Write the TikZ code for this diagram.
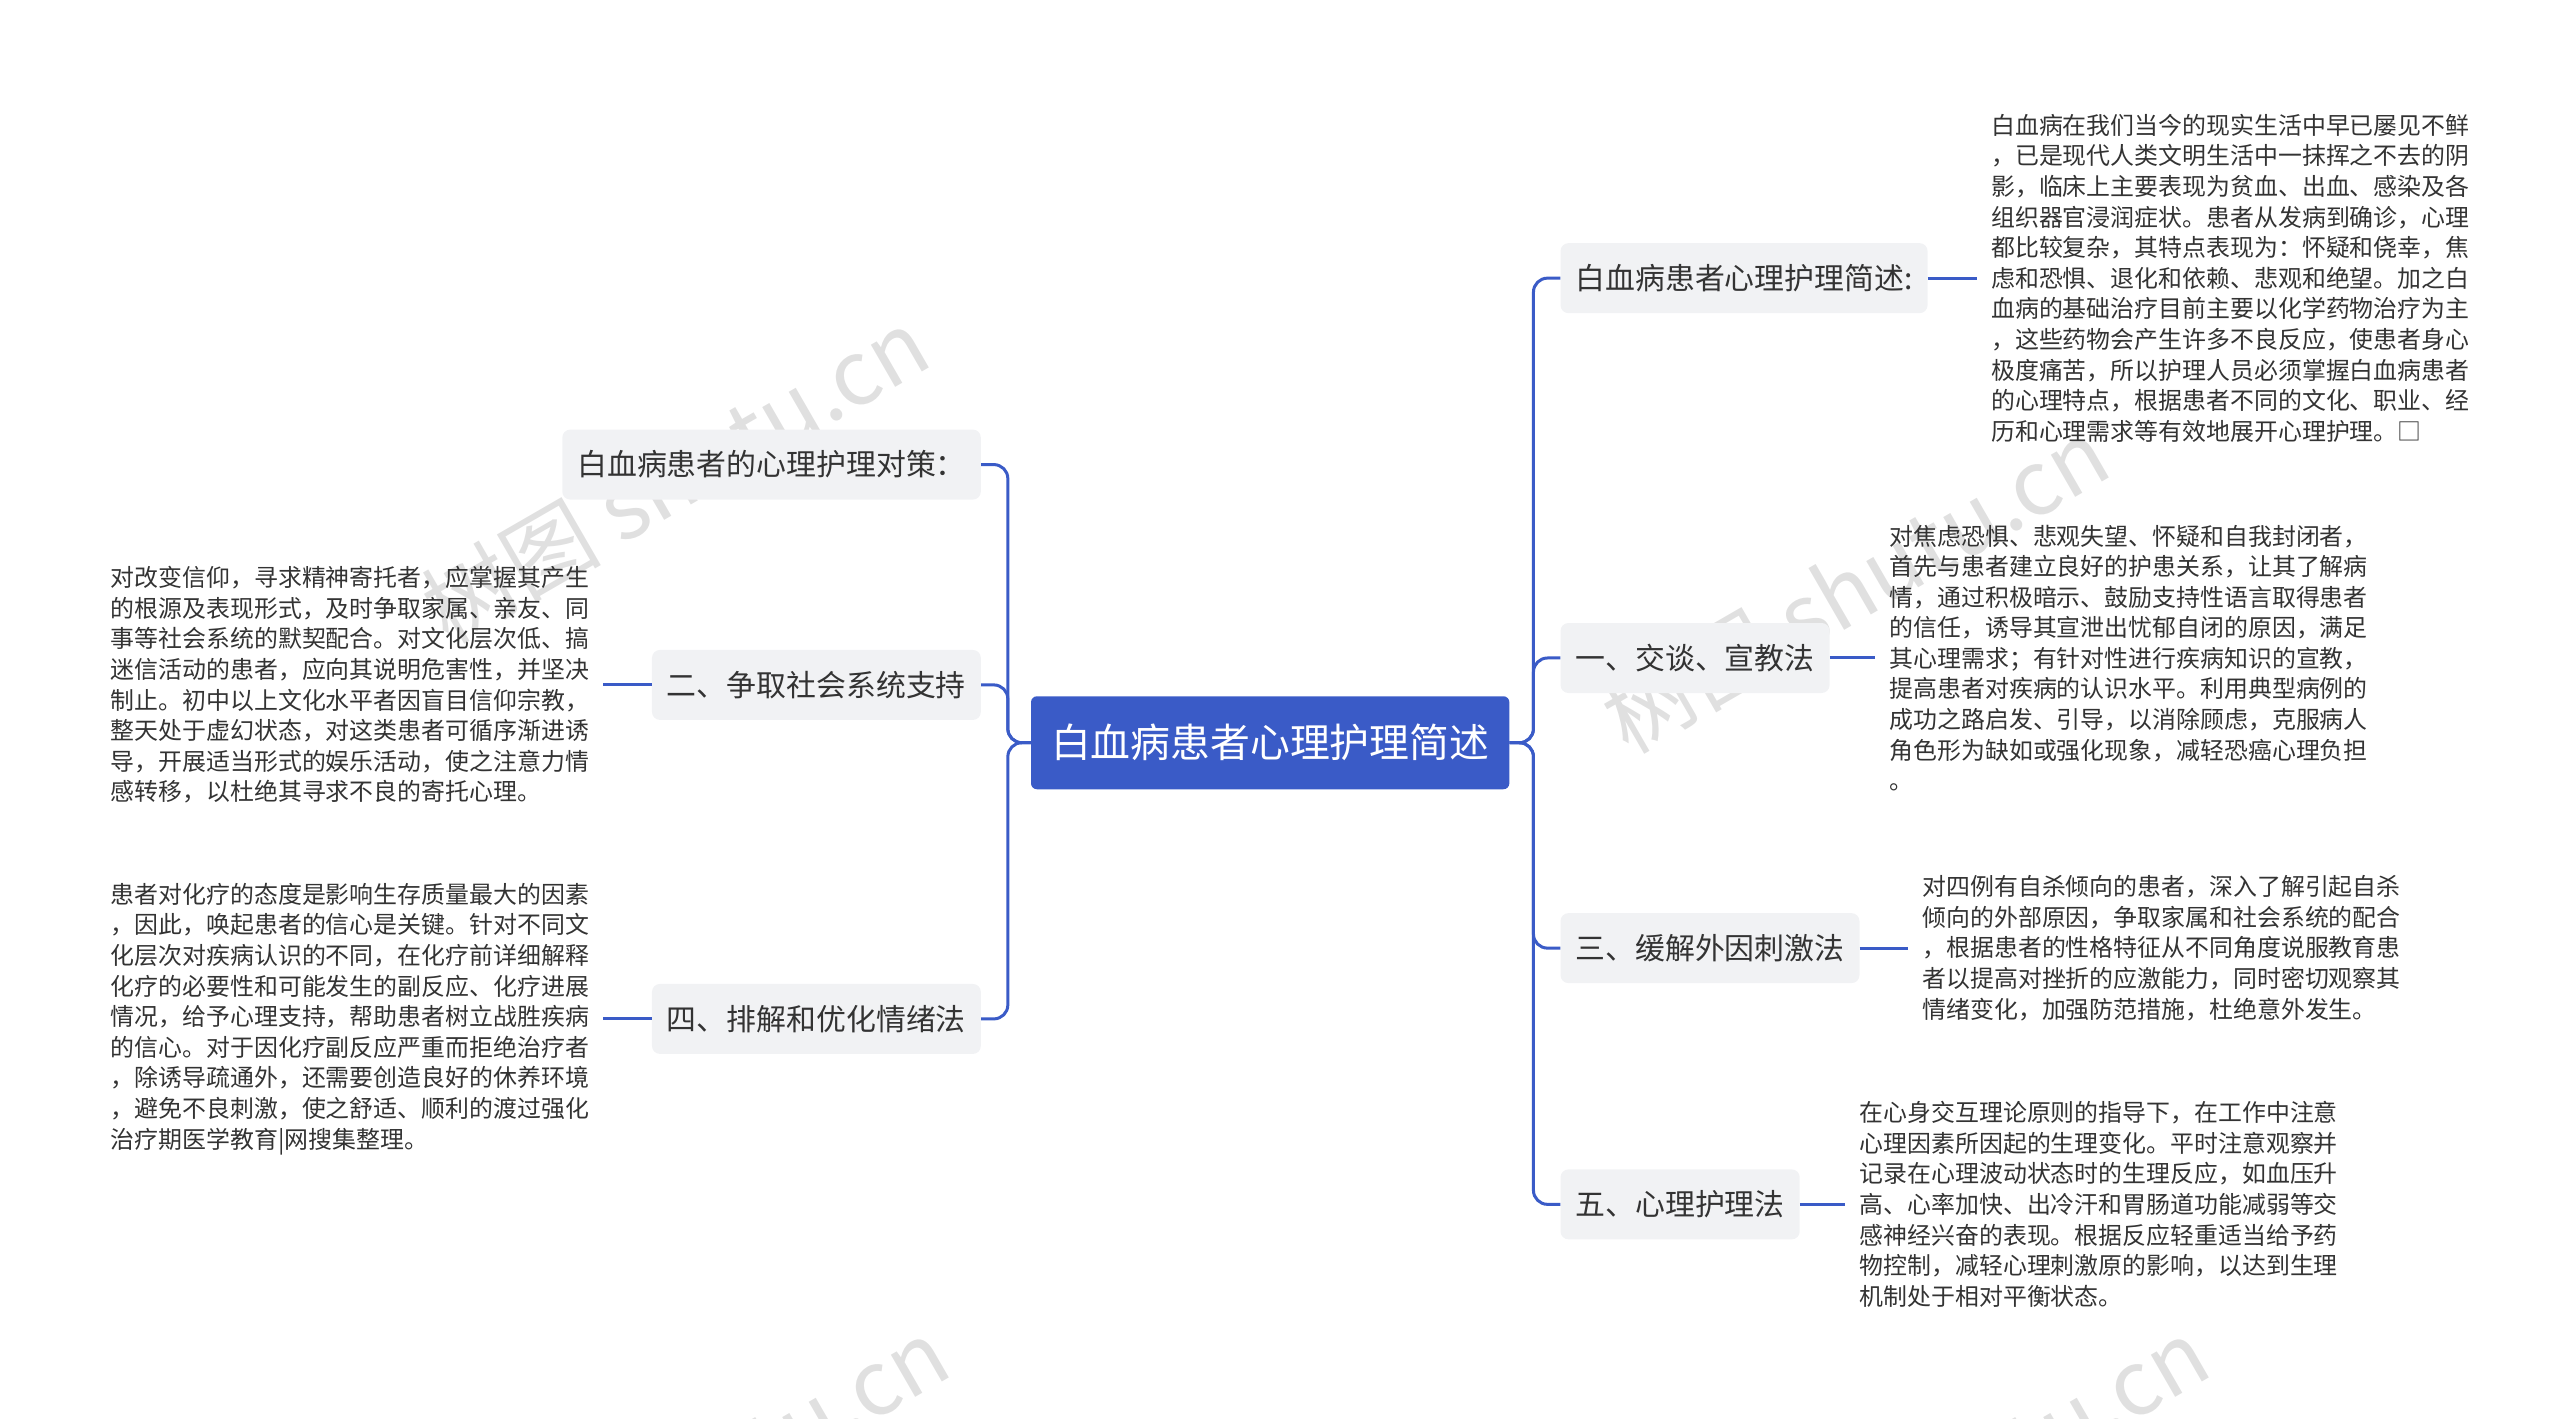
\documentclass[tikz,border=0pt]{standalone}
\usepackage{fontspec}
\setmainfont{Noto Sans CJK SC}
\definecolor{mainblue}{HTML}{3A5BC7}
\definecolor{boxgray}{HTML}{F1F2F4}
\definecolor{txt}{HTML}{333333}
\begin{document}
\begin{tikzpicture}[x=1bp,y=-1bp,
  root/.style={fill=mainblue,rounded corners=6,text=white,font=\fontsize{40}{48}\selectfont,minimum height=93bp,inner xsep=20bp},
  branch/.style={fill=boxgray,rounded corners=8,text=txt,font=\fontsize{30}{36}\selectfont,minimum height=70bp,inner xsep=15bp},
  leaf/.style={text=txt,font=\fontsize{24}{30.7}\selectfont,align=left,inner ysep=0,inner xsep=14bp},
  conn/.style={draw=mainblue,line width=3bp,rounded corners=14bp},
  wm/.style={text=black!12,font=\fontsize{90}{90}\selectfont,rotate=30}]
\useasboundingbox (0,0) rectangle (2560,1419);
\node[wm] (w1) at (675,475) {树图 shutu.cn};
\node[wm] (w2) at (1855,585) {树图 shutu.cn};
\node[wm] (w3) at (695,1485) {树图 shutu.cn};
\node[wm] (w4) at (1955,1485) {树图 shutu.cn};

\begin{scope}[shift={(0,-3)},scale=0.997]
\node[root] (r) at (1274,748) {白血病患者心理护理简述};

\node[branch,anchor=west] (b1) at (1565,282) {白血病患者心理护理简述:};
\node[branch,anchor=west] (b2) at (1565,663) {一、交谈、宣教法};
\node[branch,anchor=west] (b3) at (1565,954) {三、缓解外因刺激法};
\node[branch,anchor=west] (b4) at (1565,1211) {五、心理护理法};
\node[branch,anchor=east] (l1) at (984,469) {白血病患者的心理护理对策：};
\node[branch,anchor=east] (l2) at (984,690) {二、争取社会系统支持};
\node[branch,anchor=east] (l3) at (984,1025) {四、排解和优化情绪法};

\node[leaf,anchor=west] (t1) at (1983,282) {白血病在我们当今的现实生活中早已屡见不鲜\\，已是现代人类文明生活中一抹挥之不去的阴\\影，临床上主要表现为贫血、出血、感染及各\\组织器官浸润症状。患者从发病到确诊，心理\\都比较复杂，其特点表现为：怀疑和侥幸，焦\\虑和恐惧、退化和依赖、悲观和绝望。加之白\\血病的基础治疗目前主要以化学药物治疗为主\\，这些药物会产生许多不良反应，使患者身心\\极度痛苦，所以护理人员必须掌握白血病患者\\的心理特点，根据患者不同的文化、职业、经\\历和心理需求等有效地展开心理护理。□};
\node[leaf,anchor=west] (t2) at (1881,663) {对焦虑恐惧、悲观失望、怀疑和自我封闭者，\\首先与患者建立良好的护患关系，让其了解病\\情，通过积极暗示、鼓励支持性语言取得患者\\的信任，诱导其宣泄出忧郁自闭的原因，满足\\其心理需求；有针对性进行疾病知识的宣教，\\提高患者对疾病的认识水平。利用典型病例的\\成功之路启发、引导，以消除顾虑，克服病人\\角色形为缺如或强化现象，减轻恐癌心理负担\\。};
\node[leaf,anchor=west] (t3) at (1914,954) {对四例有自杀倾向的患者，深入了解引起自杀\\倾向的外部原因，争取家属和社会系统的配合\\，根据患者的性格特征从不同角度说服教育患\\者以提高对挫折的应激能力，同时密切观察其\\情绪变化，加强防范措施，杜绝意外发生。};
\node[leaf,anchor=west] (t4) at (1851,1211) {在心身交互理论原则的指导下，在工作中注意\\心理因素所因起的生理变化。平时注意观察并\\记录在心理波动状态时的生理反应，如血压升\\高、心率加快、出冷汗和胃肠道功能减弱等交\\感神经兴奋的表现。根据反应轻重适当给予药\\物控制，减轻心理刺激原的影响，以达到生理\\机制处于相对平衡状态。};
\node[leaf,anchor=east] (t5) at (605,690) {对改变信仰，寻求精神寄托者，应掌握其产生\\的根源及表现形式，及时争取家属、亲友、同\\事等社会系统的默契配合。对文化层次低、搞\\迷信活动的患者，应向其说明危害性，并坚决\\制止。初中以上文化水平者因盲目信仰宗教，\\整天处于虚幻状态，对这类患者可循序渐进诱\\导，开展适当形式的娱乐活动，使之注意力情\\感转移，以杜绝其寻求不良的寄托心理。};
\node[leaf,anchor=east] (t6) at (605,1025) {患者对化疗的态度是影响生存质量最大的因素\\，因此，唤起患者的信心是关键。针对不同文\\化层次对疾病认识的不同，在化疗前详细解释\\化疗的必要性和可能发生的副反应、化疗进展\\情况，给予心理支持，帮助患者树立战胜疾病\\的信心。对于因化疗副反应严重而拒绝治疗者\\，除诱导疏通外，还需要创造良好的休养环境\\，避免不良刺激，使之舒适、顺利的渡过强化\\治疗期医学教育|网搜集整理。};

\foreach \b in {b1,b2,b3,b4} \draw[conn] (r.east) -- ++(24,0) |- (\b.west);
\foreach \b in {l1,l2,l3} \draw[conn] (r.west) -- ++(-23,0) |- (\b.east);
\draw[conn] (b1.east) -- (t1.west);
\draw[conn] (b2.east) -- (t2.west);
\draw[conn] (b3.east) -- (t3.west);
\draw[conn] (b4.east) -- (t4.west);
\draw[conn] (l2.west) -- (t5.east);
\draw[conn] (l3.west) -- (t6.east);
\end{scope}
\end{tikzpicture}
\end{document}
